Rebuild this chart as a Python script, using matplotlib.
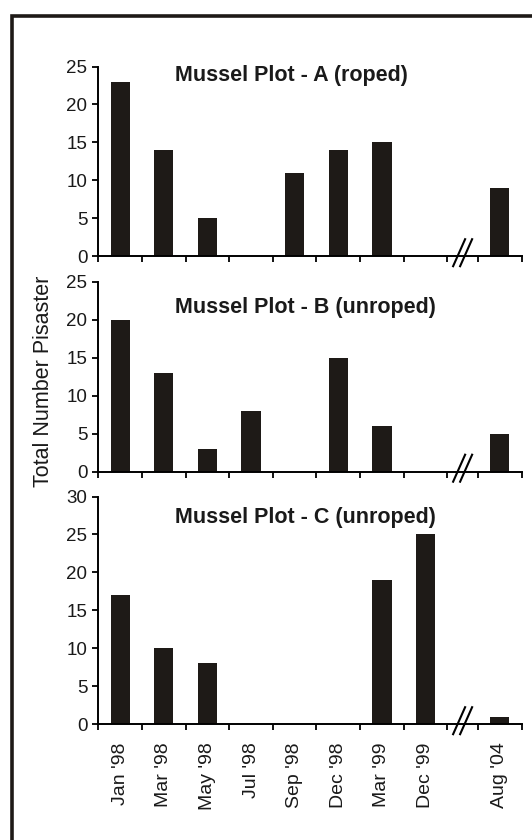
import numpy as np
import matplotlib
matplotlib.use("Agg")
import matplotlib.pyplot as plt
from matplotlib.patches import Rectangle

plt.rcParams['font.family'] = ['Liberation Sans', 'DejaVu Sans']

# dados
meses = ["Jan '98", "Mar '98", "May '98", "Jul '98", "Sep '98", "Dec '98",
         "Mar '99", "Dec '99", "Aug '04"]
plot_a = [23, 14, 5, 0, 11, 14, 15, 0, 9]
plot_b = [20, 13, 3, 8, 0, 15, 6, 0, 5]
plot_c = [17, 10, 8, 0, 0, 0, 19, 25, 1]
titulos = ["Mussel Plot - A (roped)", "Mussel Plot - B (unroped)",
           "Mussel Plot - C (unroped)"]
ymax = [25, 25, 30]
ylabel = "Total Number Pisaster"

cor_barra = '#1e1a17'
cor_texto = '#1a1a1a'

# posicoes: 8 categorias seguidas, um salto (quebra) e depois Aug '04
gap = 0.7
xpos = np.array([i + 0.5 for i in range(8)] + [8 + gap + 0.5])
bordas = list(range(9)) + [8 + gap, 9 + gap]
xquebra = 8 + gap / 2

fig = plt.figure(figsize=(5.32, 8.4), dpi=100)

# moldura grossa (cortada a direita e embaixo)
W, H = 532, 840
fig.patches.append(Rectangle((11.5 / W, -0.2), 1.5, 1 - 15.5 / H + 0.2,
                             transform=fig.transFigure, fill=False,
                             edgecolor='#1e1a17', linewidth=2.6))

left, right = 98.4 / W, 521.5 / W
# (topo, base) de cada painel em pixels
paineis = [(66.5, 256.2), (282.0, 471.7), (496.5, 724.2)]
pos_titulo = [0.953, 0.863, 0.908]
dados = [plot_a, plot_b, plot_c]

for k in range(3):
    top, bot = paineis[k]
    ax = fig.add_axes([left, 1 - bot / H, right - left, (bot - top) / H])
    ax.bar(xpos, dados[k], width=0.44, color=cor_barra, edgecolor='none')
    ax.set_xlim(0, 9 + gap)
    ax.set_ylim(0, ymax[k])
    ax.set_yticks(np.arange(0, ymax[k] + 1, 5))
    for s in ['top', 'right']:
        ax.spines[s].set_visible(False)
    for s in ['left', 'bottom']:
        ax.spines[s].set_linewidth(1.4)
        ax.spines[s].set_color('black')
    ax.tick_params(axis='y', direction='out', length=4, width=1.3,
                   labelsize=13.5, pad=4, labelcolor=cor_texto)
    # marcas nas bordas das categorias, rotulos no centro
    ax.set_xticks(bordas, minor=True)
    ax.set_xticks(xpos)
    ax.tick_params(axis='x', which='minor', direction='out', length=4.5, width=1.3)
    ax.tick_params(axis='x', which='major', length=0, pad=13)
    if k == 2:
        ax.set_xticklabels(meses, rotation=90, fontsize=14, color=cor_texto,
                           va='top', ha='center')
    else:
        ax.set_xticklabels([])
    ax.text(0.181, pos_titulo[k], titulos[k], transform=ax.transAxes,
            fontsize=15.5, fontweight='bold', color=cor_texto,
            ha='left', va='center')

    # simbolo de quebra //
    h = ax.bbox.height
    u = ax.bbox.width / (9 + gap)
    trans = ax.get_xaxis_transform()
    for d in [-3.5, 3.5]:
        x0 = xquebra + (d - 6) / u
        x1 = xquebra + (d + 6) / u
        ax.plot([x0, x1], [-10 / h, 17 / h], color='black', lw=1.5,
                transform=trans, clip_on=False)

fig.text(44 / W, 1 - 381.5 / H, ylabel, rotation=90, fontsize=15.5,
         color=cor_texto, ha='center', va='center')

plt.savefig("out.png", dpi=100)
